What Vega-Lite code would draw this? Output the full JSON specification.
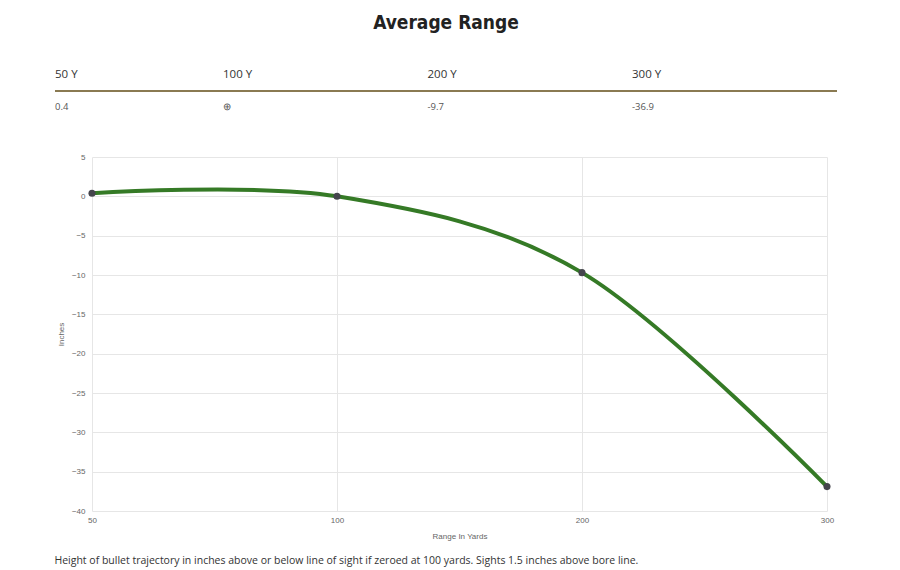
{
  "$schema": "https://vega.github.io/schema/vega-lite/v6.json",
  "padding": {"left": 54, "top": 14, "right": 10, "bottom": 4},
  "background": "#ffffff",
  "title": {
    "text": "Average Range",
    "font": "'DejaVu Sans Condensed', 'DejaVu Sans', sans-serif",
    "fontWeight": "bold",
    "fontSize": 19,
    "color": "#222222",
    "anchor": "middle",
    "offset": 34
  },
  "config": {
    "view": {"stroke": null},
    "scale": {"pointPadding": 0},
    "axis": {
      "labelFont": "Liberation Sans",
      "titleFont": "Liberation Sans",
      "labelFontSize": 8,
      "titleFontSize": 8,
      "labelColor": "#666666",
      "titleColor": "#666666",
      "titleFontWeight": "normal",
      "gridColor": "#e6e6e6",
      "gridWidth": 1,
      "domain": false,
      "ticks": false
    }
  },
  "datasets": {
    "traj": [
      {"range": "50", "label": "50 Y", "shown": "0.4", "inches": 0.4},
      {"range": "100", "label": "100 Y", "shown": "⊕", "inches": 0.0},
      {"range": "200", "label": "200 Y", "shown": "-9.7", "inches": -9.7},
      {"range": "300", "label": "300 Y", "shown": "-36.9", "inches": -36.9}
    ]
  },
  "spacing": 36,
  "vconcat": [
    {
      "width": 745,
      "height": 50,
      "data": {"name": "traj"},
      "resolve": {"scale": {"x": "independent"}},
      "layer": [
        {
          "layer": [
            {
              "transform": [{"filter": "datum.range !== '50'"}],
              "mark": {"type": "text", "align": "left", "baseline": "middle", "font": "Open Sans", "fontSize": 11.5, "color": "#333333"},
              "encoding": {
                "x": {"field": "range", "type": "ordinal", "sort": null, "scale": {"type": "point", "domain": ["50", "100", "200", "300"], "range": [-73.5, 540], "padding": 0}, "axis": null},
                "y": {"datum": "header", "type": "ordinal", "scale": {"type": "point", "domain": ["header", "line", "value"], "range": [8, 40], "padding": 0}, "axis": null},
                "text": {"field": "label"}
              }
            },
            {
              "transform": [{"filter": "datum.range === '50'"}],
              "mark": {"type": "text", "align": "left", "baseline": "middle", "font": "Open Sans", "fontSize": 11.5, "color": "#333333", "dx": 36.5},
              "encoding": {
                "x": {"field": "range", "type": "ordinal", "sort": null, "axis": null},
                "y": {"datum": "header", "type": "ordinal", "axis": null},
                "text": {"field": "label"}
              }
            },
            {
              "transform": [{"filter": "datum.range !== '50'"}],
              "mark": {"type": "text", "align": "left", "baseline": "middle", "font": "Open Sans", "fontSize": 9.5, "color": "#555555"},
              "encoding": {
                "x": {"field": "range", "type": "ordinal", "sort": null, "axis": null},
                "y": {"datum": "value", "type": "ordinal", "axis": null},
                "text": {"field": "shown"}
              }
            },
            {
              "transform": [{"filter": "datum.range === '50'"}],
              "mark": {"type": "text", "align": "left", "baseline": "middle", "font": "Open Sans", "fontSize": 9.5, "color": "#555555", "dx": 36.5},
              "encoding": {
                "x": {"field": "range", "type": "ordinal", "sort": null, "axis": null},
                "y": {"datum": "value", "type": "ordinal", "axis": null},
                "text": {"field": "shown"}
              }
            }
          ]
        },
        {
          "mark": {"type": "rule", "color": "#8a7a52", "strokeWidth": 1.5},
          "encoding": {
            "x": {"datum": 0, "type": "quantitative", "scale": {"domain": [0, 1], "range": [-37, 745], "nice": false, "zero": false}, "axis": null},
            "x2": {"datum": 1},
            "y": {"datum": "line", "type": "ordinal", "axis": null}
          }
        }
      ]
    },
    {
      "width": 735,
      "height": 354,
      "data": {"name": "traj"},
      "title": {
        "text": "Height of bullet trajectory in inches above or below line of sight if zeroed at 100 yards. Sights 1.5 inches above bore line.",
        "orient": "bottom",
        "anchor": "start",
        "frame": "bounds",
        "offset": 16,
        "dx": -3,
        "font": "Open Sans",
        "fontSize": 10.5,
        "fontWeight": "normal",
        "color": "#333333"
      },
      "encoding": {
        "x": {
          "field": "range",
          "type": "ordinal",
          "sort": null,
          "scale": {"type": "point", "padding": 0},
          "axis": {"title": "Range In Yards", "labelAngle": 0, "labelPadding": 5, "titlePadding": 8, "grid": true}
        },
        "y": {
          "field": "inches",
          "type": "quantitative",
          "scale": {"domain": [-40, 5], "nice": false},
          "axis": {"title": "Inches", "values": [-40, -35, -30, -25, -20, -15, -10, -5, 0, 5], "labelPadding": 7, "titlePadding": 6, "grid": true}
        }
      },
      "layer": [
        {
          "mark": {"type": "line", "interpolate": "cardinal", "color": "#357a26", "strokeWidth": 4}
        },
        {
          "mark": {"type": "circle", "color": "#45454d", "size": 50, "opacity": 1}
        }
      ]
    }
  ]
}
